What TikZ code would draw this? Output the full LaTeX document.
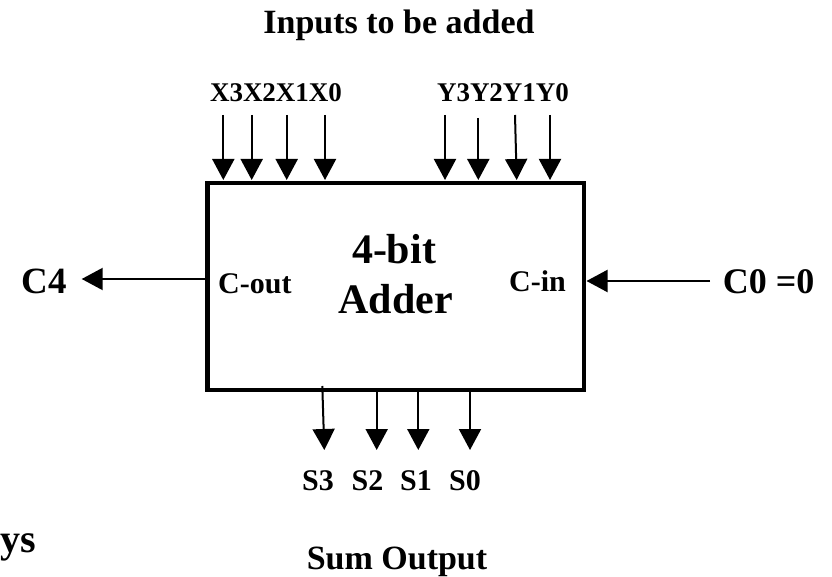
\documentclass[tikz,border=0pt]{standalone}
\usepackage{fontspec}
\setmainfont{Liberation Serif}
\usetikzlibrary{arrows.meta}
\tikzset{
  lbl/.style={inner sep=0pt, anchor=base, font=\bfseries\fontsize{#1}{#1}\selectfont},
  sig/.style={line width=2pt, -{Triangle[length=21pt,width=22pt]}},
  blk/.style={draw, line width=4.5pt, inner sep=0pt}
}
\begin{document}
\begin{tikzpicture}[x=1pt,y=-1pt]
\useasboundingbox (0,0) rectangle (832,577);
% block
\node[blk, minimum width=376.5pt, minimum height=207pt] (adder) at (395.75,286.5) {};
% titles
\node[lbl=34] (title) at (399,34) {Inputs to be added};
\node[lbl=34] (sumout) at (397,569) {Sum Output};
\node[lbl=40, anchor=base west] (ys) at (0.5,552) {ys};
% inside labels
\node[lbl=42] (four) at (394,263) {4-bit};
\node[lbl=42] (addr) at (395.5,313) {Adder};
\node[lbl=30, anchor=base west] (cout) at (218,294) {C-out};
\node[lbl=30, anchor=base west] (cin) at (509,291) {C-in};
% carry labels
\node[lbl=37, anchor=base west] (c4) at (21.7,293) {C4};
\node[lbl=36, anchor=base west] (c0) at (722.7,294) {C0 =0};
% input labels
\node[lbl=27] (xl) at (276,101.7) {X3X2X1X0};
\node[lbl=27] (yl) at (503,101.7) {Y3Y2Y1Y0};
% sum labels
\node[lbl=30] (s3) at (318,490) {S3};
\node[lbl=30] (s2) at (367.5,490) {S2};
\node[lbl=30] (s1) at (416,490) {S1};
\node[lbl=30] (s0) at (465,490) {S0};
% input arrows
\foreach \n/\xa/\ya/\xb in {x3/223.3/115/223.3, x2/251.7/115/251.7, x1/286.7/115/286.7, x0/325/115/325,
                           y3/445/115/445, y2/478.3/118/478.3, y1/515/115/516.7, y0/550/115/550}{
  \coordinate (\n s) at (\xa,\ya);
  \coordinate (\n e) at (\xb,180);
  \draw[sig] (\n s) -- (\n e);
}
% sum arrows
\foreach \n/\xa/\ya/\xb in {o3/322.3/386/324.3, o2/376.7/390/376.7, o1/418.3/390/418.3, o0/470/390/470}{
  \coordinate (\n s) at (\xa,\ya);
  \coordinate (\n e) at (\xb,450);
  \draw[sig] (\n s) -- (\n e);
}
% carry arrows
\coordinate (coutp) at (adder.west |- 0,279);
\coordinate (c4tip) at (81.7,279);
\draw[sig] (coutp) -- (c4tip);
\coordinate (c0start) at (710,281);
\coordinate (cinp) at (586.5,281);
\draw[sig] (c0start) -- (cinp);
\end{tikzpicture}
\end{document}
